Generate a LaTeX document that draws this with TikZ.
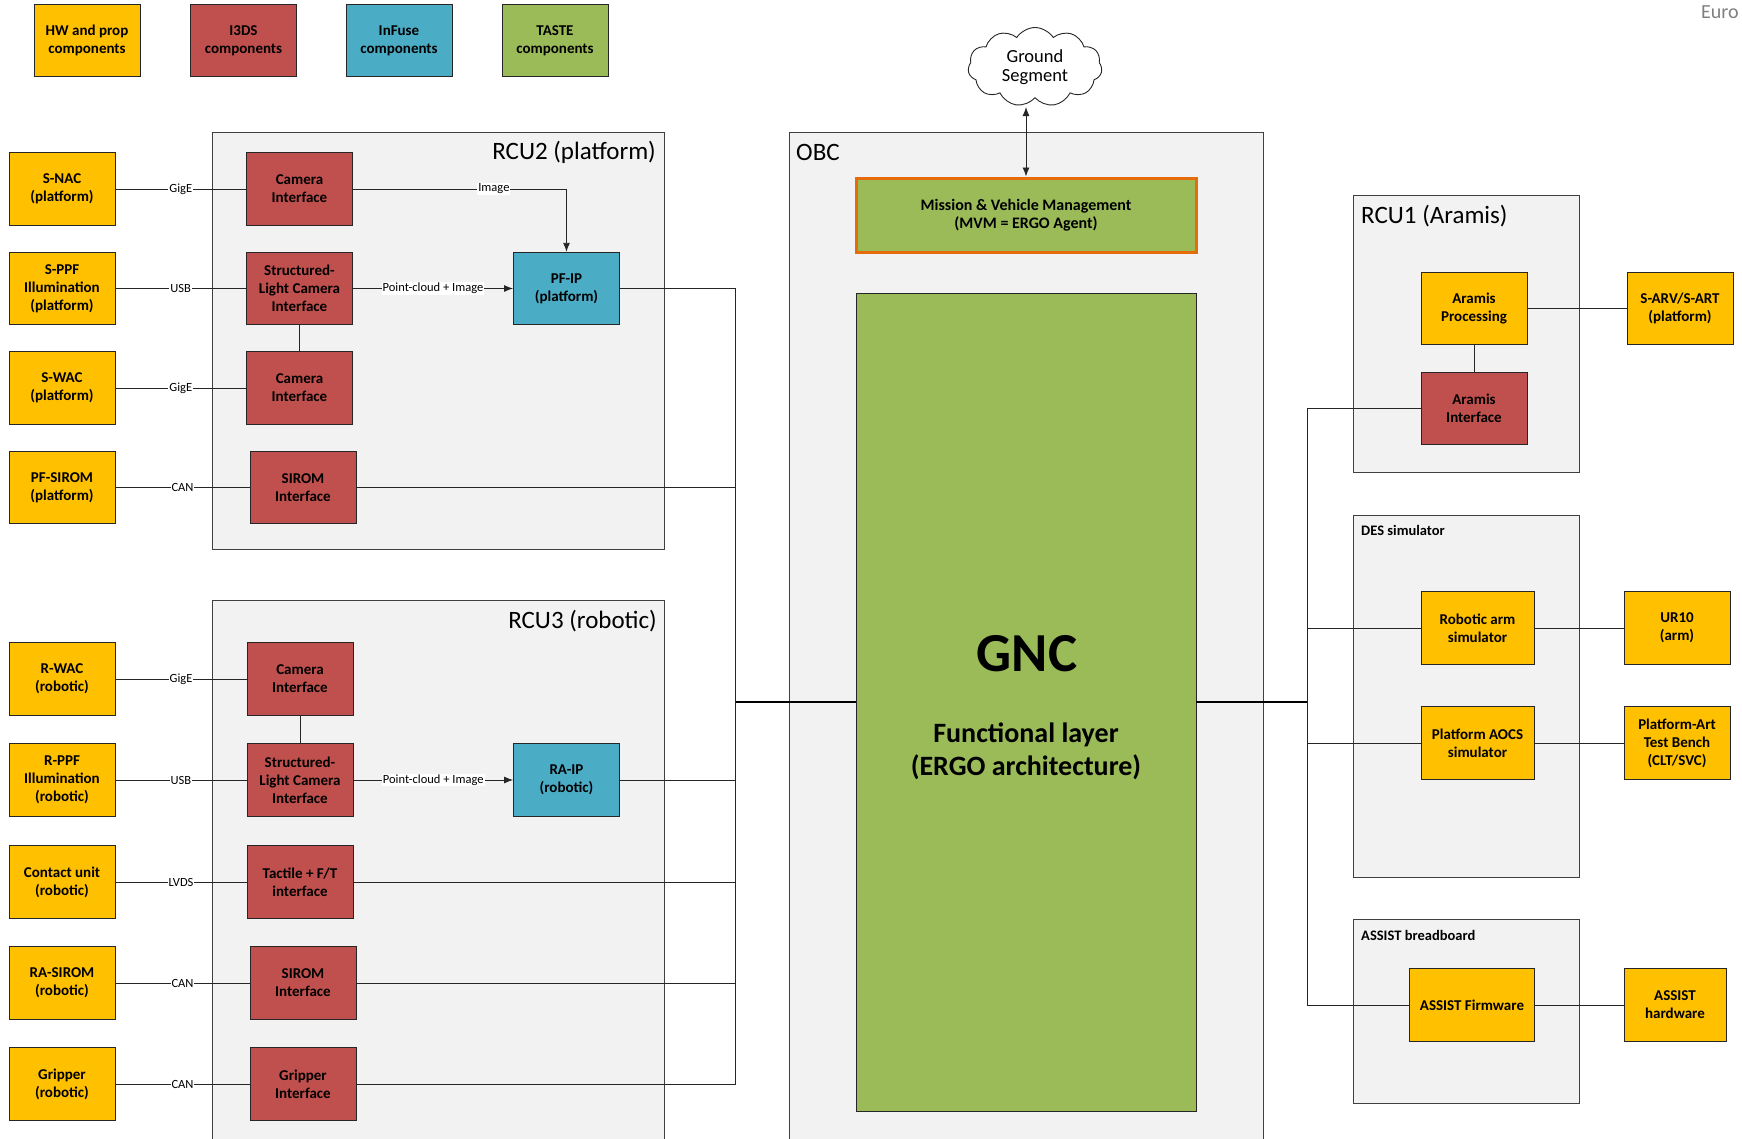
\documentclass[tikz,border=0pt]{standalone}
\usepackage{fontspec}
\setmainfont{Carlito}
\usetikzlibrary{shapes.symbols,arrows.meta}

\definecolor{hwyellow}{HTML}{FFC000}
\definecolor{idsred}{HTML}{C0504D}
\definecolor{infblue}{HTML}{4BACC6}
\definecolor{tastegreen}{HTML}{9BBB59}
\definecolor{panelgray}{HTML}{F2F2F2}
\definecolor{paneledge}{HTML}{404040}
\definecolor{mvmorange}{HTML}{E46C0A}

\newcommand\fsz[2]{\fontsize{#1}{#2}\selectfont}

\begin{document}
\begin{tikzpicture}[x=1pt,y=-1pt,
  comp/.style={draw=black!85, line width=0.9pt, minimum width=106pt, minimum height=72.5pt,
    inner sep=0pt, align=center, font=\bfseries\fsz{15}{18}},
  hw/.style={comp, fill=hwyellow},
  ids/.style={comp, fill=idsred},
  inf/.style={comp, fill=infblue},
  taste/.style={comp, fill=tastegreen},
  panel/.style={draw=paneledge, line width=1pt, fill=panelgray, inner sep=0pt},
  title/.style={font=\fsz{25}{29}, inner sep=0pt},
  subtitle/.style={font=\bfseries\fsz{14.5}{17}, inner sep=0pt},
  wire/.style={draw=black!85, line width=0.9pt},
  buswire/.style={draw=black, line width=1.5pt},
  lbl/.style={font=\fsz{12.5}{14}, fill=white, inner sep=1pt},
  tip/.style={-{Latex[length=9pt,width=7pt]}},
]
\clip (0,0) rectangle (1742,1138);
\fill[white] (0,0) rectangle (1742,1138);

% ---------------- legend ----------------
\node[hw]    (lghw)   at (87,40.5)    {HW and prop\\components};
\node[ids]   (lgids)  at (243.5,40.5) {I3DS\\components};
\node[inf]   (lginf)  at (399,40.5)   {InFuse\\components};
\node[taste] (lgtst)  at (555,40.5)   {TASTE\\components};

\node[font=\fsz{20}{24}, text=black!50, anchor=west, inner sep=0pt] (euro) at (1701,12) {Euro};

% ---------------- container panels ----------------
\node[panel, minimum width=451.5pt, minimum height=417pt]  (rcu2) at (438.25,340.5) {};
\node[panel, minimum width=452.5pt, minimum height=560pt]  (rcu3) at (438.25,880.5) {};
\node[panel, minimum width=474.5pt, minimum height=1030pt] (obc)  at (1026.25,647) {};
\node[panel, minimum width=226pt,   minimum height=277pt]  (rcu1) at (1466,333.5) {};
\node[panel, minimum width=226pt,   minimum height=362pt]  (des)  at (1466,696) {};
\node[panel, minimum width=226pt,   minimum height=183.3pt](asb)  at (1466,1011.35) {};

\node[title, anchor=east] (rcu2lbl) at (656,152)  {RCU2 (platform)};
\node[title, anchor=east] (rcu3lbl) at (657,621)  {RCU3 (robotic)};
\node[title, anchor=west] (obclbl)  at (796,152)  {OBC};
\node[title, anchor=west] (rcu1lbl) at (1361,216) {RCU1 (Aramis)};
\node[subtitle, anchor=west] (deslbl) at (1361,530) {DES simulator};
\node[subtitle, anchor=west] (asblbl) at (1361,935) {ASSIST breadboard};

% ---------------- platform devices and RCU2 ----------------
\node[hw] (snac)    at (62,189)   {S-NAC\\(platform)};
\node[hw] (sppf)    at (62,288.5) {S-PPF\\Illumination\\(platform)};
\node[hw] (swac)    at (62,388)   {S-WAC\\(platform)};
\node[hw] (pfsirom) at (62,487.5) {PF-SIROM\\(platform)};

\node[ids] (cam1)   at (299.5,189) {Camera\\Interface};
\node[ids] (sl1)    at (299.5,288.5) {Structured-\\Light Camera\\Interface};
\node[ids] (cam2)   at (299.5,388) {Camera\\Interface};
\node[ids] (sirom1) at (303,487.5) {SIROM\\Interface};
\node[inf] (pfip)   at (566.5,288.5) {PF-IP\\(platform)};

% ---------------- robotic devices and RCU3 ----------------
\node[hw] (rwac)    at (62,679)  {R-WAC\\(robotic)};
\node[hw] (rppf)    at (62,780)  {R-PPF\\Illumination\\(robotic)};
\node[hw] (contact) at (62,882)  {Contact unit\\(robotic)};
\node[hw] (rasirom) at (62,983)  {RA-SIROM\\(robotic)};
\node[hw] (gripper) at (62,1084) {Gripper\\(robotic)};

\node[ids] (cam3)    at (300,679)  {Camera\\Interface};
\node[ids] (sl2)     at (300,780)  {Structured-\\Light Camera\\Interface};
\node[ids] (tactile) at (300,882)  {Tactile + F/T\\interface};
\node[ids] (sirom2)  at (303,983)  {SIROM\\Interface};
\node[ids] (gripif)  at (303,1084) {Gripper\\Interface};
\node[inf] (raip)    at (566.5,780) {RA-IP\\(robotic)};

% ---------------- OBC ----------------
\node[taste, draw=mvmorange, line width=3pt, minimum width=340pt, minimum height=74pt,
  font=\bfseries\fsz{16}{18}] (mvm)
  at (1026,215) {Mission \& Vehicle Management\\(MVM = ERGO Agent)};
\node[taste, minimum width=340pt, minimum height=818pt] (gnc) at (1026,702) {};
\node[font=\bfseries\fsz{55}{60}, inner sep=0pt] (gnctitle) at (1027,654) {GNC};
\node[font=\bfseries\fsz{28}{33}, align=center, inner sep=0pt] (gncsub) at (1026,751)
  {Functional layer\\(ERGO architecture)};

\node[cloud, cloud puffs=11, cloud puff arc=115, cloud ignores aspect, draw=black!85, line width=0.9pt,
  fill=white, minimum width=134pt, minimum height=79pt, inner sep=0pt, align=center,
  font=\fsz{18.5}{19}] (ground) at (1035,67) {Ground\\Segment};

% ---------------- right-hand side ----------------
\node[hw]  (aproc) at (1474,308.5) {Aramis\\Processing};
\node[ids] (aif)   at (1474,408.5) {Aramis\\Interface};
\node[hw]  (sarv)  at (1680,308.5) {S-ARV/S-ART\\(platform)};
\node[hw, minimum width=113pt] (rasim) at (1477.5,628) {Robotic arm\\simulator};
\node[hw]  (ur10)  at (1677,628) {UR10\\(arm)};
\node[hw, minimum width=113pt] (aocs)  at (1477.5,743) {Platform AOCS\\simulator};
\node[hw]  (ptb)   at (1677,743) {Platform-Art\\Test Bench\\(CLT/SVC)};
\node[hw, minimum width=124.3pt] (asfw) at (1472,1005) {ASSIST Firmware};
\node[hw, minimum width=102pt] (ashw)  at (1675,1005) {ASSIST\\hardware};

% ---------------- connectors: left side ----------------
\draw[wire] (snac.east)    -- node[lbl] {GigE} (cam1.west);
\draw[wire] (sppf.east)    -- node[lbl] {USB}  (sl1.west);
\draw[wire] (swac.east)    -- node[lbl] {GigE} (cam2.west);
\draw[wire] (pfsirom.east) -- node[lbl] {CAN}  (sirom1.west);
\draw[wire] (sl1.south) -- (cam2.north);
\draw[wire, tip] (cam1.east) -| node[lbl, pos=0.33] {Image} (pfip.north);
\draw[wire, tip] (sl1.east) -- node[lbl] {Point-cloud + Image} (pfip.west);

\draw[wire] (rwac.east)    -- node[lbl] {GigE} (cam3.west);
\draw[wire] (rppf.east)    -- node[lbl] {USB}  (sl2.west);
\draw[wire] (contact.east) -- node[lbl] {LVDS} (tactile.west);
\draw[wire] (rasirom.east) -- node[lbl] {CAN}  (sirom2.west);
\draw[wire] (gripper.east) -- node[lbl] {CAN}  (gripif.west);
\draw[wire] (cam3.south) -- (sl2.north);
\draw[wire, tip] (sl2.east) -- node[lbl] {Point-cloud + Image} (raip.west);

% data bus from the RCUs to the GNC
\coordinate (lbus) at (735.5,702);
\draw[wire] (pfip.east) -- (pfip.east -| lbus) -- (gripif.east -| lbus) -- (gripif.east);
\draw[wire] (sirom1.east)  -- (sirom1.east -| lbus);
\draw[wire] (raip.east)    -- (raip.east -| lbus);
\draw[wire] (tactile.east) -- (tactile.east -| lbus);
\draw[wire] (sirom2.east)  -- (sirom2.east -| lbus);
\draw[buswire] (lbus) -- (gnc.west);

% ground link
\coordinate (gsend) at (1026,107);
\draw[wire, {Latex[length=9pt,width=7pt]}-{Latex[length=9pt,width=7pt]}] (gsend) -- (mvm.north);

% ---------------- connectors: right side ----------------
\coordinate (rbus) at (1307.5,702);
\draw[buswire] (gnc.east) -- (rbus);
\draw[wire] (aif.west) -- (aif.west -| rbus) -- (asfw.west -| rbus) -- (asfw.west);
\draw[wire] (rasim.west) -- (rasim.west -| rbus);
\draw[wire] (aocs.west)  -- (aocs.west -| rbus);
\draw[wire] (aproc.south) -- (aif.north);
\draw[wire] (aproc.east) -- (sarv.west);
\draw[wire] (rasim.east) -- (ur10.west);
\draw[wire] (aocs.east)  -- (ptb.west);
\draw[wire] (asfw.east)  -- (ashw.west);
\end{tikzpicture}
\end{document}
